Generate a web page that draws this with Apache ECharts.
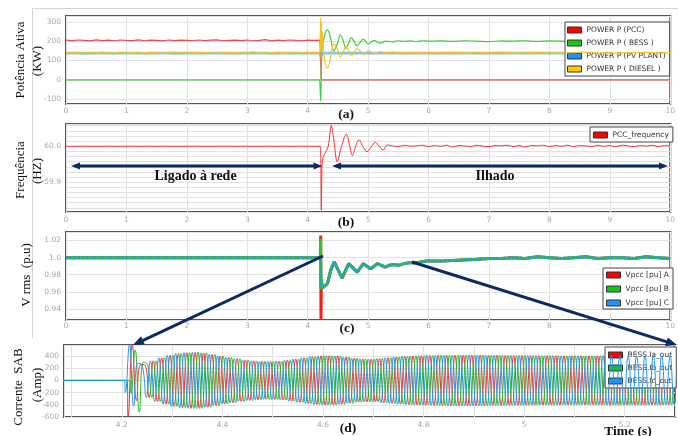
<!DOCTYPE html>
<html><head><meta charset="utf-8">
<script src="https://cdn.jsdelivr.net/npm/echarts@6/dist/echarts.min.js"></script>
<style>html,body{margin:0;padding:0;background:#fff}#c{width:678px;height:436px}</style>
</head><body><div id="c"></div><script>
// ---------- (a) Potência ativa ----------
const powerTimesPre = [0,0.1,0.2,0.3,0.4,0.5,0.6,0.7,0.8,0.9,1.0,1.1,1.2,1.3,1.4,1.5,1.6,1.7,1.8,1.9,2.0,2.1,2.2,2.3,2.4,2.5,2.6,2.7,2.8,2.9,3.0,3.1,3.2,3.3,3.4,3.5,3.6,3.7,3.8,3.9,4.0,4.1,4.2];
const powerPccPre = [205,203,206,204,201,207,203,205,202,206,204,203,207,202,205,204,201,206,203,205,204,202,206,203,205,207,202,204,205,203,206,202,204,208,201,205,203,206,204,202,205,204,205];
const powerDieselPre = [141,139,142,138,141,140,143,139,140,142,138,141,140,139,142,140,138,141,143,139,140,142,139,141,140,138,142,140,141,139,140,144,138,141,140,142,139,140,141,139,142,140,141];
const powerPvPre = [138,139,138,137,138,139,138,138,137,139,138,138,139,137,138,138,139,138,137,138,139,138,138,137,139,138,138,139,137,138,138,139,138,138,137,139,138,138,139,137,138,139,138];
const bessTimesPre = [0,4.2];
const powerBessPre = [0,0];
const powerTimesPost = [4.21,4.215,4.22,4.225,4.23,4.24,4.27,4.3,4.33,4.38,4.43,4.49,4.54,4.59,4.63,4.68,4.72,4.77,4.81,4.87,4.92,4.96,5.0,5.05,5.1,5.15,5.2,5.3,5.4,5.5,5.6,5.7,5.8,5.9,6.0,6.2,6.4,6.6,6.8,7.0,7.2,7.4,7.6,7.8,8.0,8.2,8.4,8.6,8.8,9.0,9.2,9.4,9.6,9.8,10.0];
const powerBessPost = [0,-110,-60,40,120,170,215,250,258,215,150,185,233,200,163,190,218,198,176,195,210,198,185,195,204,197,190,200,196,202,199,201,198,202,200,201,199,202,200,198,201,200,202,199,201,200,198,202,200,201,199,200,202,199,201];
const powerDieselPost = [140,320,110,300,160,250,120,75,60,120,185,160,118,145,172,150,126,140,162,148,132,138,150,143,135,141,146,139,143,139,141,140,142,139,141,140,142,139,141,140,143,139,140,142,140,139,141,143,140,139,141,140,142,140,141];
const pccTimesPost = [4.21,4.215,4.22,4.225,10];
const powerPccPost = [205,150,20,0,0];
const pvTimesPost = [4.21,4.215,4.22,4.225,4.23,4.24,5,6,7,8,9,10];
const powerPvPost = [138,120,105,125,135,138,139,138,139,138,139,138];

// ---------- (b) Frequência ----------
const freqTimesPre = [0,4.21];
const freqPre = [60.0,60.0];
const freqTimesPost = [4.215,4.225,4.235,4.25,4.3,4.34,4.39,4.43,4.49,4.56,4.64,4.69,4.74,4.79,4.85,4.91,4.98,5.05,5.12,5.18,5.25,5.32,
  5.4,5.5,5.6,5.7,5.8,5.9,6.0,6.1,6.2,6.3,6.4,6.5,6.6,6.7,6.8,6.9,7.0,7.1,7.2,7.3,7.4,7.5,7.6,7.7,7.8,7.9,8.0,8.1,8.2,8.3,8.4,8.5,8.6,8.7,8.8,8.9,9.0,9.1,9.2,9.3,9.4,9.5,9.6,9.7,9.8,9.9,10.0];
const freqPost = [59.99,59.822,59.93,59.966,59.985,60.0,60.058,60.02,59.957,60.0,60.034,60.005,59.974,59.998,60.018,60.0,59.985,59.998,60.011,60.0,59.99,60.004,
  60.001,59.999,60.003,60.000,60.001,60.003,59.999,60.002,60.000,60.003,59.998,60.002,60.001,59.999,60.003,60.000,59.999,60.002,60.001,60.003,
  59.999,60.002,59.998,60.002,60.001,60.003,59.999,60.002,60.000,60.003,59.999,60.002,60.001,59.999,60.003,60.000,60.002,59.999,60.003,60.001,
  59.999,60.002,60.000,60.003,59.999,60.002,60.001];

// ---------- (c) V rms ----------
const voltTimesPre = [0,4.21];
const voltPre = [1.0,1.0];
const voltTimesSpike = [4.215,4.22,4.225];
const voltSpikeA = [1.026,0.928,0.97];
const voltSpikeB = [1.022,0.963,0.975];
const voltSpikeC = [1.0,0.975,0.968];
const voltTimesPost = [4.25,4.28,4.33,4.38,4.44,4.5,4.57,4.62,4.68,4.75,4.82,4.87,4.92,4.98,5.04,5.1,5.15,5.22,5.28,5.35,5.42,5.5,5.6,5.67,5.8,5.97,6.2,6.5,6.8,7.0,7.2,7.4,7.6,7.8,8.0,8.2,8.4,8.6,8.8,9.0,9.2,9.4,9.6,9.8,10.0];
const voltPost = [0.965,0.963,0.97,0.985,0.995,0.986,0.976,0.984,0.993,0.988,0.983,0.988,0.993,0.99,0.987,0.99,0.993,0.991,0.989,0.991,0.992,0.991,0.993,0.994,0.994,0.996,0.996,0.997,0.998,0.999,0.999,1.0,0.999,1.001,1.0,0.999,1.0,1.001,0.999,1.0,1.0,0.999,1.001,1.0,0.999];

// ---------- (d) Corrente SAB (peak values of each half cycle) ----------
const currentLeadTime = 4.0;
const currentHalfPeriod = 1/120;
const currentOnset = [4.2105, 4.2161, 4.2049];
const currentStart = [4.2125, 4.2181, 4.2069];
const currentHeadA = [-590,580,-330,260];
const currentHeadB = [-210,500,-520,300];
const currentHeadC = [-200,590,-420,280];
const currentBody = [250,-280,320,-345,370,-390,410,-425,440,-448,455,-458,
  460,-458,450,-440,425,-412,400,-388,375,-365,355,-345,
  335,-328,320,-315,312,-310,310,-312,318,-322,330,-340,
  350,-360,370,-380,390,-396,402,-404,405,-404,400,-393,
  385,-375,365,-358,352,-350,350,-352,358,-365,372,-378,
  385,-390,395,-398,402,-404,405,-406,408,-408,410,-410,
  412,-412,412,-413,414,-414,414,-413,413,-412,412,-411,
  410,-410,410,-409,408,-408,408,-407,407,-406,406,-405,
  405,-405,405,-404,404,-404,404,-403,403,-403,403,-404,
  404,-405,405,-406,406,-406,406,-405,405,-405,405,-404,
  404,-404,404,-403,403,-403,403,-402,402,-402,402,-402];

// ---------- helpers ----------
function pairs(ts, vs){ return ts.map((t,i)=>[t, vs[i]]); }
function currentData(k, head){
  const d = [[currentLeadTime,0],[currentOnset[k],0]];
  head.concat(currentBody).forEach((v,i)=>d.push([currentStart[k] + i*currentHalfPeriod, v]));
  return d;
}
function stepLabel(step, fmt){ return v => { const k = v/step; return Math.abs(k-Math.round(k))<1e-6 ? fmt(v) : ''; }; }

const navy = '#0d2a62';
const axisFont = 'DejaVu Sans';
const gridStyle = {show:true, borderColor:'#575757', borderWidth:2, backgroundColor:'#fff'};
const splitStyle = {show:true, lineStyle:{color:'#e2e2e2', width:1}};
const labelBase = {color:'#a8a8a8', fontSize:7.5, fontFamily:axisFont};

function xAxis10(g, margin){
  return {gridIndex:g, type:'value', min:0, max:10, interval:1,
    axisLine:{show:false}, axisTick:{show:false},
    axisLabel:Object.assign({margin:margin}, labelBase), splitLine:splitStyle};
}
function yAx(g, min, max, step, fmt, labelStep){
  return {gridIndex:g, type:'value', min:min, max:max, minInterval:step, maxInterval:step, splitNumber:5,
    axisLine:{show:false}, axisTick:{show:false},
    axisLabel:Object.assign({margin:5, formatter:stepLabel(labelStep||step, fmt)}, labelBase),
    splitLine:splitStyle};
}
function legendBox(left, top, names, padding, gap){
  return {orient:'vertical', left:left, top:top, data:names, selectedMode:false,
    backgroundColor:'#fff', borderColor:'#444', borderWidth:1, borderRadius:0,
    padding:padding, itemGap:gap, itemWidth:14, itemHeight:6, icon:'rect',
    itemStyle:{borderColor:'#333', borderWidth:1},
    textStyle:{fontFamily:axisFont, fontSize:7.5, color:'#333', lineHeight:10}};
}
function line(name, xi, data, color, iconColor, width, z, extra){
  return Object.assign({name:name, type:'line', xAxisIndex:xi, yAxisIndex:xi, data:data,
    showSymbol:false, symbol:'none', silent:true, z:z,
    lineStyle:{color:color, width:width}, itemStyle:{color:iconColor}}, extra||{});
}

function arrow(x1,y1,x2,y2,w,len,hw,startHead,endHead){
  const dx=x2-x1, dy=y2-y1, L=Math.hypot(dx,dy), ux=dx/L, uy=dy/L, px=-uy, py=ux;
  const els=[];
  const sx = startHead ? x1+ux*len*0.8 : x1, sy = startHead ? y1+uy*len*0.8 : y1;
  const ex = endHead ? x2-ux*len*0.8 : x2, ey = endHead ? y2-uy*len*0.8 : y2;
  els.push({type:'line', z:100, shape:{x1:sx,y1:sy,x2:ex,y2:ey}, style:{stroke:navy, lineWidth:w}});
  if(endHead) els.push({type:'polygon', z:100, shape:{points:[[x2,y2],[x2-ux*len+px*hw,y2-uy*len+py*hw],[x2-ux*len-px*hw,y2-uy*len-py*hw]]}, style:{fill:navy}});
  if(startHead) els.push({type:'polygon', z:100, shape:{points:[[x1,y1],[x1+ux*len+px*hw,y1+uy*len+py*hw],[x1+ux*len-px*hw,y1+uy*len-py*hw]]}, style:{fill:navy}});
  return els;
}
function txt(x,y,text,font,rot){
  return {type:'text', z:100, x:x, y:y, rotation:rot||0,
    style:{text:text, font:font, fill:'#111', textAlign:'center', textVerticalAlign:'middle', align:'center', verticalAlign:'middle'}};
}

const serif = '"Liberation Serif"';
const graphics = [].concat(
  [{type:'line', z:1, shape:{x1:32.5,y1:8.5,x2:678,y2:8.5}, style:{stroke:'#d4d4d4', lineWidth:1}},
   {type:'line', z:1, shape:{x1:32.5,y1:8.5,x2:32.5,y2:338}, style:{stroke:'#d4d4d4', lineWidth:1}}],
  arrow(71,166,322.5,166,3,9,3.5,true,true),
  arrow(332,166,668,166,3,9,3.5,true,true),
  arrow(323,256,133,345,3,11,4.5,false,true),
  arrow(412,262,677,345,3,11,4.5,false,true),
  [txt(195.5,176,'Ligado à rede','bold 14px '+serif),
   txt(495,176,'Ilhado','bold 14px '+serif),
   txt(346,114.5,'(a)','bold 13.5px '+serif),
   txt(346,223,'(b)','bold 13.5px '+serif),
   txt(347,329,'(c)','bold 13.5px '+serif),
   txt(348,429,'(d)','bold 13.5px '+serif),
   txt(628,432,'Time (s)','bold 13.5px '+serif),
   txt(21,60,'Potência Ativa','13px '+serif,Math.PI/2),
   txt(37.5,61,'(KW)','13px '+serif,Math.PI/2),
   txt(21,170,'Frequência','13px '+serif,Math.PI/2),
   txt(37.5,171,'(HZ)','13px '+serif,Math.PI/2),
   txt(27,275,'V rms  (p.u)','13px '+serif,Math.PI/2),
   txt(19,387,'Corrente  SAB','13px '+serif,Math.PI/2),
   txt(37.5,385,'(Amp)','13px '+serif,Math.PI/2)]
);

const option = {
  animation:false,
  backgroundColor:'#fff',
  grid:[
    Object.assign({left:66, top:16, width:609, height:88}, gridStyle),
    Object.assign({left:66, top:124, width:609, height:88}, gridStyle),
    Object.assign({left:66, top:232, width:609, height:88}, gridStyle),
    Object.assign({left:64, top:345, width:614, height:72}, gridStyle)
  ],
  xAxis:[
    xAxis10(0,3), xAxis10(1,4), xAxis10(2,2),
    {gridIndex:3, type:'value', min:4.085, max:5.3, minInterval:0.1, maxInterval:0.1, splitNumber:6,
      axisLine:{show:false}, axisTick:{show:false},
      axisLabel:Object.assign({margin:4, formatter:stepLabel(0.2, v=>String(Math.round(v*10)/10))}, labelBase),
      splitLine:splitStyle}
  ],
  yAxis:[
    yAx(0,-125,330,100,v=>String(Math.round(v))),
    yAx(1,59.817,60.062,0.1/7,v=>v.toFixed(1),0.1),
    yAx(2,0.927,1.03,0.02,v=>Math.abs(v-1)<1e-6?'1.0':v.toFixed(2)),
    yAx(3,-600,580,200,v=>String(Math.round(v)))
  ],
  legend:[
    legendBox(565,22,['POWER P (PCC)','POWER P ( BESS )','POWER P (PV PLANT)','POWER P ( DIESEL )'],[3,4,2,2],3),
    legendBox(590,127,['PCC_frequency'],[3,4,2,3],3),
    legendBox(603,268,['Vpcc [pu] A','Vpcc [pu] B','Vpcc [pu] C'],[2,4,1,3],4),
    legendBox(605,347,['BESS.Ia_out','BESS.Ib_out','BESS.Ic_out'],[3,4,2,3],3)
  ],
  series:[
    line('POWER P (PV PLANT)',0,pairs(powerTimesPre.concat(pvTimesPost),powerPvPre.concat(powerPvPost)),'#7cc6f2','#1e90ff',2.6,2),
    line('POWER P (PCC)',0,pairs(powerTimesPre.concat(pccTimesPost),powerPccPre.concat(powerPccPost)),'#f04848','#ff0000',1.2,3),
    line('POWER P ( BESS )',0,pairs(bessTimesPre.concat(powerTimesPost),powerBessPre.concat(powerBessPost)),'#3ccf3c','#19c419',1.2,3,{smooth:0.3}),
    line('POWER P ( DIESEL )',0,pairs(powerTimesPre.concat(powerTimesPost),powerDieselPre.concat(powerDieselPost)),'#f7c31a','#ffc800',1.2,4,{smooth:0.3}),
    line('PCC_frequency',1,pairs(freqTimesPre.concat(freqTimesPost),freqPre.concat(freqPost)),'#ff3030','#ff0000',1,3,{smooth:0.35}),
    line('Vpcc [pu] A',2,pairs(voltTimesPre.concat(voltTimesSpike,voltTimesPost),voltPre.concat(voltSpikeA,voltPost)),'#ff1a1a','#ff0000',3,2),
    line('Vpcc [pu] B',2,pairs(voltTimesPre.concat(voltTimesSpike,voltTimesPost),voltPre.concat(voltSpikeB,voltPost)),'#2cc42c','#19c419',3,3),
    line('Vpcc [pu] C',2,pairs(voltTimesPre.concat(voltTimesSpike,voltTimesPost),voltPre.concat(voltSpikeC,voltPost)),'#1e9cf0','#1e90ff',3,4,{lineStyle:{color:'#1e9cf0',width:3,type:[2,2]}}),
    line('BESS.Ia_out',3,currentData(0,currentHeadA),'#ff2a2a','#ff0000',1,2,{smooth:0.5}),
    line('BESS.Ib_out',3,currentData(1,currentHeadB),'#1fbf1f','#19c419',1,3,{smooth:0.5}),
    line('BESS.Ic_out',3,currentData(2,currentHeadC),'#1e96f0','#1e90ff',1,4,{smooth:0.5})
  ],
  graphic:{elements:graphics}
};
const chart = echarts.init(document.getElementById('c'), null, {renderer:'canvas', width:678, height:436});
chart.setOption(option);
</script></body></html>
